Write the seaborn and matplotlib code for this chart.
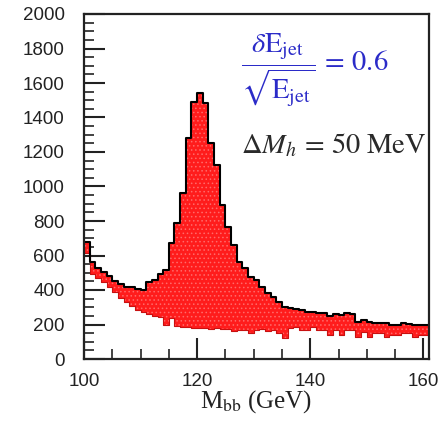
import numpy as np
import pandas as pd
import matplotlib
matplotlib.use("Agg")
import matplotlib.pyplot as plt
import seaborn as sns

# bin lower edges (GeV), 1 GeV bins
bin_start = list(range(100, 161))
# total (signal + background) per bin
total = [680, 565, 530, 505, 480, 455, 432, 420, 415, 405,
         400, 445, 460, 490, 516, 672, 788, 962, 1281, 1492,
         1542, 1484, 1252, 1125, 893, 765, 661, 562, 527, 475,
         458, 417, 383, 360, 330, 300, 296, 290, 284, 272,
         270, 267, 267, 249, 261, 255, 267, 261, 215, 226,
         216, 210, 210, 209, 197, 200, 209, 205, 200, 200,
         200]
# background per bin (lower edge of the band)
background = [615, 495, 470, 445, 420, 390, 355, 330, 305, 285,
              272, 262, 250, 245, 200, 238, 190, 187, 185, 180,
              178, 182, 176, 180, 172, 175, 165, 170, 168, 150,
              168, 172, 165, 168, 150, 122, 180, 186, 168, 168,
              186, 168, 168, 139, 168, 139, 168, 168, 128, 157,
              129, 151, 151, 129, 139, 139, 151, 151, 129, 139,
              139]
x_ticks = [100, 120, 140, 160]
y_ticks = list(range(0, 2001, 200))

sns.set_style("white")
plt.rcParams['font.family'] = ['Liberation Sans', 'DejaVu Sans']
plt.rcParams['mathtext.fontset'] = 'stix'
plt.rcParams['hatch.linewidth'] = 0.6

df = pd.DataFrame({"center": np.array(bin_start, dtype=float) + 0.5,
                   "total": np.array(total, dtype=float),
                   "background": np.array(background, dtype=float)})
edges = [float(b) for b in bin_start] + [float(bin_start[-1] + 1)]

fig = plt.figure(figsize=(4.39, 4.24), dpi=100)
ax = fig.add_axes([84/439, 1 - 359/424, (429-84)/439, (359-14)/424])

top_y = np.append(df["total"].values, df["total"].values[-1])
low_y = np.append(df["background"].values, df["background"].values[-1])
ax.fill_between(edges, low_y, top_y, step='post', facecolor='#ff1c1c',
                edgecolor='#ff6a6a', linewidth=0, hatch='....', zorder=1)
ax.step(edges, low_y, where='post', color='#c81010', linewidth=0.8, zorder=1.5)
sns.histplot(x=df["center"], weights=df["total"], bins=edges, element="step",
             fill=False, color="black", linewidth=1.5, ax=ax, zorder=2)

ax.set_xlim(100, 161)
ax.set_ylim(0, 2000)
ax.set_xticks(x_ticks)
ax.set_yticks(y_ticks)
ax.set_xticks(np.arange(100, 161, 5), minor=True)
ax.set_yticks(np.arange(0, 2001, 50), minor=True)
ax.tick_params(axis='both', which='both', bottom=True, left=True, top=False, right=False)
ax.tick_params(axis='both', which='major', direction='in', length=15, width=1.5,
               color='#222222', labelsize=13.5, labelcolor='#222222')
ax.tick_params(axis='both', which='minor', direction='in', length=7, width=1.2,
               color='#222222')
ax.tick_params(axis='y', which='major', pad=14)
ax.tick_params(axis='x', which='major', pad=10)

ax.set_ylabel("")
ax.set_xlabel(r"M$_{\mathrm{bb}}$ (GeV)", fontsize=18, family='Liberation Serif',
              color='#222222')
ax.xaxis.set_label_coords(0.5, -0.085)

for s in ax.spines.values():
    s.set_color('#222222')
    s.set_linewidth(1.6)
    s.set_visible(True)

ax.text(0.455, 0.838, r"$\dfrac{\delta\mathrm{E}_{\mathrm{jet}}}{\sqrt{\mathrm{E}_{\mathrm{jet}}}}\,=\,0.6$",
        transform=ax.transAxes, fontsize=20.5, color='#2b2bc8', va='center', ha='left')
ax.text(0.455, 0.62, r"$\Delta M_h\,=\,50\ \mathrm{MeV}$",
        transform=ax.transAxes, fontsize=20.5, color='#2a2a2a', va='center', ha='left')

fig.savefig("out.png", dpi=100)
